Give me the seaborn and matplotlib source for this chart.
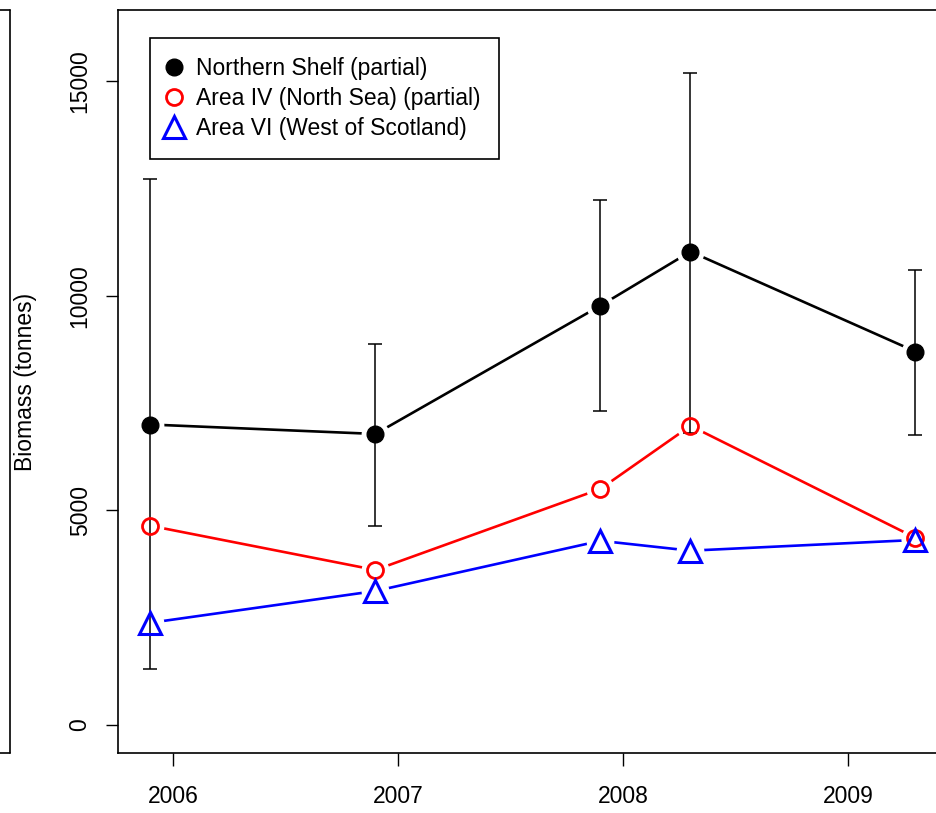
import pandas as pd
import matplotlib.pyplot as plt
import matplotlib.lines as mlines
import seaborn as sns

# data
years = [2005.9, 2006.9, 2007.9, 2008.3, 2009.3]
northern_shelf = [7000, 6780, 9770, 11030, 8700]
ns_lower = [1300, 4640, 7320, 6810, 6760]
ns_upper = [12730, 8880, 12240, 15200, 10610]
area_iv = [4640, 3610, 5500, 6970, 4360]
area_vi = [2380, 3120, 4290, 4060, 4310]

series_names = ["Northern Shelf (partial)", "Area IV (North Sea) (partial)",
                "Area VI (West of Scotland)"]
colors = ["black", "red", "blue"]
xticks = [2006, 2007, 2008, 2009]
yticks = [0, 5000, 10000, 15000]

sns.set_style("ticks")
plt.rcParams['font.family'] = ['Liberation Sans', 'DejaVu Sans']
plt.rcParams['text.color'] = 'black'
plt.rcParams['axes.labelcolor'] = 'black'
plt.rcParams['xtick.color'] = 'black'
plt.rcParams['ytick.color'] = 'black'

df = pd.DataFrame({
    "year": years * 3,
    "biomass": northern_shelf + area_iv + area_vi,
    "series": [s for s in series_names for _ in years],
})

fig = plt.figure(figsize=(9.37, 8.13), dpi=100)
ax = fig.add_axes([118 / 937, 1 - 753 / 813, 822 / 937, 743 / 813])

# connecting lines
sns.lineplot(data=df, x="year", y="biomass", hue="series", palette=colors,
             hue_order=series_names, linewidth=1.9, legend=False, ax=ax,
             zorder=2)

# white halos to leave gaps round the points (like R type="b")
for vals in [northern_shelf, area_iv, area_vi]:
    ax.plot(years, vals, linestyle="none", marker="o", markersize=20,
            color="white", markeredgewidth=0, zorder=3)

# error bars for Northern Shelf
yerr = [[m - lo for m, lo in zip(northern_shelf, ns_lower)],
        [hi - m for m, hi in zip(northern_shelf, ns_upper)]]
ax.errorbar(years, northern_shelf, yerr=yerr, fmt="none", ecolor="black",
            elinewidth=1.1, capsize=5, capthick=1.1, zorder=4)

# markers
ax.plot(years, northern_shelf, linestyle="none", marker="o", markersize=12,
        color="black", zorder=5)
ax.plot(years, area_iv, linestyle="none", marker="o", markersize=11.5,
        markerfacecolor="none", markeredgecolor="red", markeredgewidth=2,
        zorder=5)
ax.plot(years, area_vi, linestyle="none", marker="^", markersize=16,
        markerfacecolor="none", markeredgecolor="blue", markeredgewidth=2.2,
        zorder=5)

ax.set_xlim(2005.756, 2009.409)
ax.set_ylim(-655, 16660)
ax.set_xticks(xticks)
ax.set_xticklabels([str(t) for t in xticks])
ax.set_yticks(yticks)
ax.set_yticklabels([str(t) for t in yticks], rotation=90, va="center")
ax.tick_params(axis="both", direction="out", length=9, width=1,
               labelsize=16.5, color="black", labelcolor="black")
ax.tick_params(axis="x", pad=14)
ax.tick_params(axis="y", pad=10)
for sp in ax.spines.values():
    sp.set_visible(True)
    sp.set_linewidth(1.2)
    sp.set_color("black")

ax.set_xlabel("")
ax.set_ylabel("Biomass (tonnes)", fontsize=16.5, color="black")
ax.yaxis.set_label_coords(-0.099, 0.5)

# legend with markers only
handles = [
    mlines.Line2D([], [], linestyle="none", marker="o", markersize=12,
                  color="black"),
    mlines.Line2D([], [], linestyle="none", marker="o", markersize=11.5,
                  markerfacecolor="none", markeredgecolor="red",
                  markeredgewidth=2),
    mlines.Line2D([], [], linestyle="none", marker="^", markersize=16,
                  markerfacecolor="none", markeredgecolor="blue",
                  markeredgewidth=2.2),
]
leg = ax.legend(handles, series_names, loc="upper left",
                bbox_to_anchor=(0.039, 0.962), fontsize=16.5, frameon=True,
                fancybox=False, edgecolor="black", framealpha=1,
                handletextpad=0.7, handlelength=0.5, labelspacing=0.32,
                borderpad=0.8, borderaxespad=0)
leg.get_frame().set_linewidth(1.2)

# remains of an outer frame at the left edge
for xs, ys in [([0, 10], [10, 10]), ([10, 10], [10, 753]), ([0, 10], [753, 753])]:
    fig.add_artist(mlines.Line2D([x / 937 for x in xs],
                                 [1 - y / 813 for y in ys],
                                 color="black", linewidth=1.2))

fig.savefig("out.png", dpi=100)
